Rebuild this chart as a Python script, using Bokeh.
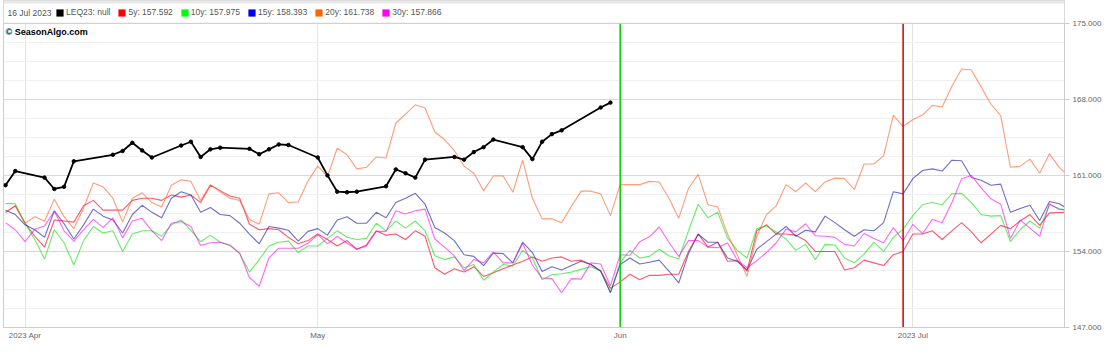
import pandas as pd
from bokeh.plotting import figure
from bokeh.models import (ColumnDataSource, FixedTicker, Span, Label, Legend,
                          LegendItem, Range1d, NumeralTickFormatter, BoxAnnotation)
from bokeh.embed import file_html
from bokeh.resources import INLINE

# ---------------- data ----------------
season_start = "2023-03-30"
season_days = 110

leq23_dates = ["2023-03-30", "2023-03-31", "2023-04-03", "2023-04-04", "2023-04-05", "2023-04-06",
               "2023-04-10", "2023-04-11", "2023-04-12", "2023-04-13", "2023-04-14",
               "2023-04-17", "2023-04-18", "2023-04-19", "2023-04-20", "2023-04-21",
               "2023-04-24", "2023-04-25", "2023-04-26", "2023-04-27", "2023-04-28",
               "2023-05-01", "2023-05-02", "2023-05-03", "2023-05-04", "2023-05-05",
               "2023-05-08", "2023-05-09", "2023-05-10", "2023-05-11", "2023-05-12",
               "2023-05-15", "2023-05-16", "2023-05-17", "2023-05-18", "2023-05-19",
               "2023-05-22", "2023-05-23", "2023-05-24", "2023-05-25", "2023-05-26",
               "2023-05-30", "2023-05-31"]
leq23 = [160.1, 161.4, 160.8, 159.75, 159.95, 162.3,
         162.9, 163.25, 164.0, 163.3, 162.65,
         163.75, 164.1, 162.7, 163.4, 163.55,
         163.45, 162.95, 163.4, 163.85, 163.8,
         162.65, 161.0, 159.5, 159.45, 159.5,
         160.0, 161.55, 161.2, 160.8, 162.45,
         162.7, 162.45, 163.15, 163.6, 164.3,
         163.6, 162.5, 164.1, 164.8, 165.15,
         167.25, 167.7]

s5y = [157.6, 158.2, 156.6, 155.4, 154.4, 156.9, 156.8, 156.7, 158.2, 158.7,
       157.8, 157.8, 157.8, 158.7, 158.9, 158.9, 158.7, 159.2, 159.0, 159.2,
       158.5, 160.1, 159.6, 159.1, 158.9, 156.5, 156.0, 156.1, 156.0, 155.3,
       154.7, 155.0, 155.6, 155.1, 154.5, 155.0, 154.2, 154.6, 155.9, 155.5,
       155.6, 155.1, 155.9, 155.4, 152.5, 151.9, 152.4, 152.1, 152.6, 151.7,
       152.05, 152.4, 152.75, 153.1, 153.5, 153.1, 153.4, 153.5, 153.1, 153.2,
       152.8, 152.2, 150.6, 151.2, 151.9, 151.4, 151.8, 151.8, 151.9, 151.9,
       154.0, 155.6, 154.4, 154.85, 153.1, 153.15, 152.2, 155.9, 156.45, 155.6,
       155.6, 155.5, 155.0, 154.0, 154.0, 154.0, 152.3, 152.5, 153.2, 152.95,
       152.7, 153.7, 154.0, 155.6, 155.6, 155.9, 155.1, 155.9, 156.65, 155.8,
       154.8, 155.6, 156.4, 156.1, 156.8, 157.4, 156.4, 157.55, 157.59, 157.6]

s10y = [158.4, 158.4, 156.6, 155.1, 153.3, 156.0, 154.8, 152.75, 155.0, 156.3,
        155.7, 155.9, 154.0, 155.6, 155.9, 155.9, 155.4, 156.45, 156.9, 155.95,
        154.9, 155.5, 154.85, 154.55, 153.8, 152.1, 153.25, 154.5, 154.85, 154.95,
        153.9, 154.5, 154.5, 155.2, 155.9, 155.3, 155.1, 155.2, 156.6, 155.9,
        156.8, 156.15, 156.8, 155.9, 153.6, 153.25, 153.5, 152.5, 152.8, 151.35,
        152.1, 152.8, 152.65, 154.1, 153.4, 151.4, 151.85, 151.95, 152.1, 152.35,
        152.6, 152.2, 150.25, 152.95, 154.1, 153.4, 153.55, 154.2, 153.6, 153.3,
        155.9, 158.35, 157.1, 157.6, 155.25, 154.1, 153.4, 156.1, 156.35, 155.8,
        155.15, 154.1, 154.65, 153.25, 154.65, 154.6, 153.4, 152.95, 153.75, 154.85,
        154.0, 155.3, 156.05, 157.3, 158.3, 158.5, 158.3, 159.3, 159.35, 158.5,
        157.4, 157.25, 157.3, 154.9, 156.0, 156.8, 156.15, 158.3, 157.95, 157.7]

s15y = [157.8, 157.4, 156.45, 156.0, 155.3, 157.75, 156.55, 155.15, 156.45, 157.9,
        157.25, 156.9, 155.7, 157.4, 158.25, 157.6, 157.1, 158.9, 159.5, 159.2,
        157.6, 158.05, 157.4, 157.3, 156.6, 155.6, 154.7, 156.3, 156.15, 155.95,
        154.95, 155.85, 156.1, 155.5, 156.9, 157.2, 156.6, 156.6, 157.6, 157.1,
        158.5, 158.9, 159.35, 158.35, 156.2, 155.7, 155.0, 153.7, 153.55, 152.7,
        153.85, 153.8, 152.95, 154.85, 153.9, 152.15, 152.6, 152.3, 152.7, 153.1,
        152.8, 152.2, 150.2, 152.8, 153.4, 152.85, 153.0, 153.2, 152.2, 151.1,
        153.8, 155.6, 154.85, 154.85, 153.4, 153.1, 152.3, 154.2, 154.9, 155.6,
        156.3, 155.4, 155.95, 155.8, 157.25, 156.65, 156.0, 155.4, 156.0, 155.9,
        156.65, 159.5, 159.3, 160.7, 161.45, 161.6, 161.4, 162.4, 162.35, 160.8,
        160.55, 160.1, 160.2, 157.6, 157.95, 158.25, 156.85, 158.6, 158.39, 157.85]

s20y = [157.6, 158.2, 156.6, 157.2, 156.8, 158.8, 157.2, 156.1, 158.0, 160.3,
        159.95, 158.9, 156.7, 158.9, 159.4, 158.5, 158.1, 160.1, 160.6, 160.45,
        158.7, 160.15, 159.5, 158.9, 158.7, 156.95, 156.5, 159.3, 159.4, 158.5,
        158.55, 160.5, 161.85, 160.9, 163.5, 162.9, 161.6, 161.75, 162.7, 162.6,
        165.8, 166.65, 167.5, 167.2, 165.0, 164.3, 163.3, 161.85, 161.2, 159.6,
        160.95, 160.95, 159.45, 162.4, 158.9, 157.0, 157.0, 156.65, 158.15, 159.55,
        159.55, 159.3, 157.3, 160.15, 160.15, 160.15, 160.45, 160.4, 158.9, 157.05,
        159.8, 161.1, 158.3, 158.1, 155.6, 153.7, 151.7, 155.4, 157.4, 158.2,
        160.15, 159.5, 160.3, 159.5, 160.4, 160.75, 160.7, 159.7, 162.05, 162.05,
        162.8, 166.55, 165.5, 166.15, 166.55, 167.45, 167.3, 169.2, 170.8, 170.7,
        169.15, 167.55, 166.5, 161.75, 161.85, 162.5, 161.2, 163.0, 161.74, 160.9]

s30y = [156.65, 156.0, 154.9, 156.05, 156.35, 157.7, 155.9, 154.95, 156.0, 156.95,
        156.2, 157.1, 155.25, 156.8, 157.05, 155.9, 155.0, 156.6, 156.75, 156.3,
        154.55, 154.8, 154.85, 154.6, 153.85, 151.6, 150.8, 153.4, 154.3, 154.3,
        154.3, 154.75, 155.55, 154.7, 155.4, 154.75, 154.2, 154.5, 155.85, 155.85,
        157.75, 157.45, 157.75, 157.9, 155.15, 154.4, 153.6, 152.25, 153.25, 152.95,
        153.95, 152.95, 152.95, 154.75, 152.75, 151.55, 151.5, 150.2, 151.5, 151.45,
        152.95, 152.85, 150.85, 153.7, 153.65, 154.9, 155.35, 156.25, 154.85, 153.55,
        155.0, 155.0, 154.4, 154.35, 154.8, 153.2, 152.5, 153.15, 153.9, 154.8,
        156.05, 155.8, 156.55, 155.45, 155.4, 155.3, 154.65, 154.5, 155.65, 155.2,
        154.8, 156.2, 155.0, 156.5, 155.65, 156.95, 156.65, 158.5, 160.7, 161.0,
        159.85, 158.85, 158.35, 155.2, 156.9, 156.15, 155.4, 158.4, 157.87, 157.8]

legend_date = "16 Jul 2023"
series_names = ["5y: 157.592", "10y: 157.975", "15y: 158.393", "20y: 161.738", "30y: 157.866"]
leq_name = "LEQ23: null"

month_ticks = ["2023-04-01", "2023-05-01", "2023-06-01", "2023-07-01"]
month_labels = ["2023 Apr", "May", "Jun", "2023 Jul"]
y_ticks = [147, 154, 161, 168, 175]
y_minor = [147 + 1.75 * i for i in range(17)]
marker_dates = ["2023-06-01", "2023-06-30"]


def ms(s):
    return pd.Timestamp(s).value / 1e6


# ---------------- figure ----------------
W, H = 1104, 342
BOTTOM = 13
x_start = ms("2023-03-29 19:00")
x_end = ms("2023-07-16 13:00")
y_lo, y_hi = y_ticks[0], y_ticks[-1]
y_top = 177.1   # strip above the 175 line holds the legend

p = figure(x_axis_type="datetime", y_axis_location="right",
           width=W, height=H,
           min_border_left=3, min_border_right=37, min_border_top=0, min_border_bottom=BOTTOM,
           x_range=Range1d(x_start, x_end), y_range=Range1d(y_lo, y_top),
           output_backend="svg", toolbar_location=None,
           background_fill_color="white", border_fill_color="white")
p.outline_line_color = "#cccccc"

# axes / grid
xt = FixedTicker(ticks=[ms(t) for t in month_ticks])
p.xaxis.ticker = xt
p.xgrid.ticker = xt
p.xaxis.major_label_overrides = {ms(t): lab for t, lab in zip(month_ticks, month_labels)}
p.xaxis.axis_line_color = "#cccccc"
p.xaxis.major_tick_line_color = None
p.xaxis.major_tick_out = 0
p.xaxis.major_tick_in = 0
p.xaxis.minor_tick_line_color = None
p.xaxis.minor_tick_out = 0
p.xaxis.major_label_text_font = "Liberation Sans"
p.xaxis.major_label_text_font_size = "8px"
p.xaxis.major_label_text_color = "#666666"
p.xaxis.major_label_standoff = 3
p.xgrid.grid_line_color = "#e3e3e3"

yt = FixedTicker(ticks=y_ticks, minor_ticks=y_minor)
p.yaxis.ticker = yt
p.ygrid.ticker = yt
p.yaxis.formatter = NumeralTickFormatter(format="0.000")
p.yaxis.axis_line_color = "#cccccc"
p.yaxis.major_tick_line_color = "#cccccc"
p.yaxis.major_tick_out = 5
p.yaxis.major_tick_in = 0
p.yaxis.minor_tick_line_color = None
p.yaxis.minor_tick_out = 0
p.yaxis.major_label_text_font = "Liberation Sans"
p.yaxis.major_label_text_font_size = "8px"
p.yaxis.major_label_text_color = "#666666"
p.yaxis.major_label_standoff = 3
p.ygrid.grid_line_color = "#d9d9d9"
p.ygrid.minor_grid_line_color = "#f0f0f0"

# seasonal lines
season_dates = pd.date_range(season_start, periods=season_days, freq="D")
src = ColumnDataSource(dict(date=season_dates, s5=s5y, s10=s10y, s15=s15y, s20=s20y, s30=s30y))
line_styles = [("s5", "#ff1030", 0.7), ("s10", "#00e000", 0.6), ("s15", "#2020b0", 0.65),
               ("s20", "#ff5a1f", 0.6), ("s30", "#ff00ee", 0.6)]
for col, color, alpha in line_styles:
    p.line("date", col, source=src, line_color=color, line_alpha=alpha, line_width=1.1)

# vertical markers (plot area only, below the legend strip)
msrc = ColumnDataSource(dict(x=pd.to_datetime(marker_dates), y0=[y_lo, y_lo], y1=[y_hi, y_hi],
                             c=["#00cc00", "#cc0000"]))
p.segment(x0="x", y0="y0", x1="x", y1="y1", source=msrc, line_color="c", line_width=1.5)

# LEQ23 line
lsrc = ColumnDataSource(dict(date=pd.to_datetime(leq23_dates), v=leq23))
p.line("date", "v", source=lsrc, line_color="black", line_width=1.8)
p.scatter("date", "v", source=lsrc, size=3.5, color="black")

# legend strip: white cover above the 175 line, thin grey band on top, separator line
p.add_layout(BoxAnnotation(bottom=y_hi, fill_color="white", fill_alpha=1, line_color=None))
p.add_layout(BoxAnnotation(bottom=y_top - 0.28, fill_color="#e8e8e8", fill_alpha=1, line_color=None))
p.add_layout(Span(location=y_hi, dimension="width", line_color="#cccccc", line_width=1))

# copyright
p.add_layout(Label(x=x_start, y=y_hi, x_offset=2, y_offset=-4, text="© SeasonAlgo.com",
                   text_font="Liberation Sans", text_font_style="bold", text_font_size="9px",
                   text_color="black", text_baseline="top", text_align="left"))

# date text of the legend row
p.add_layout(Label(x=x_start, y=y_top, x_offset=4, y_offset=-12, text=legend_date,
                   text_font="Liberation Sans", text_font_size="8.5px",
                   text_color="#555555", text_baseline="middle", text_align="left"))

# legend swatches: zero-area quads at each series' last point (invisible in the plot)
last_vals = [leq23[-1], s5y[-1], s10y[-1], s15y[-1], s20y[-1], s30y[-1]]
last_dates = [leq23_dates[-1]] + [str(season_dates[-1].date())] * 5
swatch_colors = ["#000000", "#ff0000", "#00ff00", "#0000ff", "#ff6600", "#ff00ff"]
labels = [leq_name] + series_names
items = []
for lab, c, d, v in zip(labels, swatch_colors, last_dates, last_vals):
    dd = pd.Timestamp(d)
    r = p.quad(left=[dd], right=[dd], top=[v], bottom=[v], fill_color=c, line_color=None)
    items.append(LegendItem(label=lab, renderers=[r]))
frame_h = H - BOTTOM
legend = Legend(items=items, orientation="horizontal", location=(52, frame_h - 5 - 14),
                label_text_font="Liberation Sans", label_text_font_size="8.5px",
                label_text_color="#555555", label_standoff=2, spacing=7,
                glyph_width=9, glyph_height=9, label_height=9,
                padding=2, margin=0, border_line_color=None, background_fill_alpha=0)
p.add_layout(legend)

open("out.html", "w").write(file_html(p, INLINE))
